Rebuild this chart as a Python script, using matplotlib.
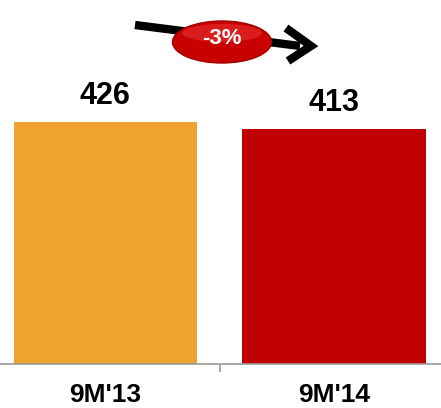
import matplotlib
matplotlib.use("Agg")
import matplotlib.pyplot as plt
from matplotlib.patches import Ellipse

categories = ["9M'13", "9M'14"]
values = [426, 413]
colors = ["#F0A330", "#C00000"]

W, H = 441, 408
fig = plt.figure(figsize=(W / 100, H / 100), dpi=100)
plt.rcParams['font.family'] = ['Liberation Sans', 'DejaVu Sans']

# main axes: pixel 0..441 horizontally, top 0 to axis line at y=364
ax = fig.add_axes([0, (H - 364) / H, 1, 364 / H])
x = list(range(len(categories)))
ax.bar(x, values, width=0.80, color=colors)
ax.set_xlim(-0.459, 1.467)
ax.set_ylim(0, 641)
for xi, v in zip(x, values):
    ax.text(xi, v + 20, f"{v}", ha="center", va="bottom", fontsize=22,
            fontweight="bold", color="black")
for s in ["top", "right", "left"]:
    ax.spines[s].set_visible(False)
ax.spines["bottom"].set_color("#999999")
ax.spines["bottom"].set_linewidth(1.2)
ax.set_yticks([])
ax.set_xticks([0.5])
ax.set_xticklabels([""])
ax.tick_params(axis="x", length=6, color="#999999", width=1.2)
for xi, c in zip(x, categories):
    ax.text(xi, -31 / 364 * 641, c, ha="center", va="center", fontsize=19,
            fontweight="bold", color="black")

# overlay for arrow and badge
ov = fig.add_axes([0, 0, 1, 1])
ov.set_xlim(0, W)
ov.set_ylim(H, 0)
ov.axis("off")
ov.plot([135, 300], [25, 46], color="black", lw=6, solid_capstyle="butt", zorder=1)
ov.plot([286, 311, 288], [28, 46, 61], color="black", lw=6,
        solid_joinstyle="miter", solid_capstyle="butt", zorder=1)
ov.add_patch(Ellipse((222, 42), 99, 42, facecolor="#C80000", edgecolor="#A00000",
                     lw=1, zorder=3))
ov.add_patch(Ellipse((222, 33), 80, 18, facecolor="#E83030", edgecolor="none",
                     alpha=0.6, zorder=4))
pct = (values[1] - values[0]) / values[0] * 100
ov.text(222, 38, f"{pct:.0f}%", ha="center", va="center", fontsize=16,
        fontweight="bold", color="white", zorder=5)

fig.savefig("out.png", dpi=100)
